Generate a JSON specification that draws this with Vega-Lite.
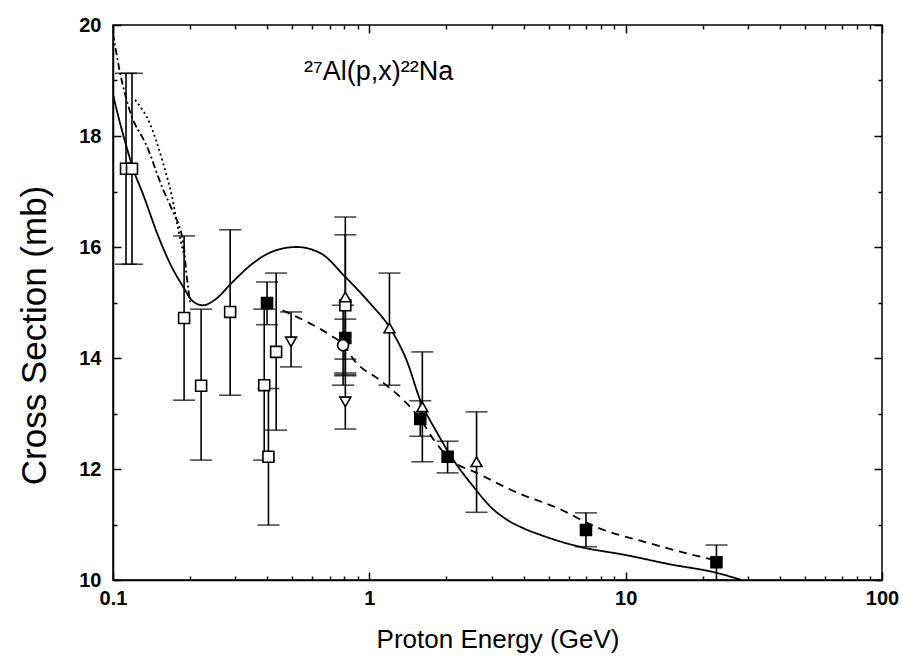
{
  "$schema": "https://vega.github.io/schema/vega-lite/v6.json",
  "width": 769,
  "height": 555,
  "autosize": {"type": "none"},
  "padding": {"left": 113, "top": 25, "right": 19, "bottom": 86},
  "background": "white",
  "config": {
    "view": {"stroke": "black", "strokeWidth": 1.5},
    "font": "Liberation Sans"
  },
  "title": {
    "text": "²⁷Al(p,x)²²Na",
    "anchor": "start",
    "frame": "group",
    "dx": 191,
    "offset": -71,
    "fontSize": 27,
    "fontWeight": "normal",
    "font": "Liberation Sans",
    "color": "black"
  },
  "datasets": {
    "curves": [
      {"curve": "solid", "E": 0.1, "sigma": 18.75},
      {"curve": "solid", "E": 0.103, "sigma": 18.5},
      {"curve": "solid", "E": 0.113, "sigma": 17.8},
      {"curve": "solid", "E": 0.12, "sigma": 17.4},
      {"curve": "solid", "E": 0.131, "sigma": 16.95},
      {"curve": "solid", "E": 0.15, "sigma": 16.2},
      {"curve": "solid", "E": 0.167, "sigma": 15.7},
      {"curve": "solid", "E": 0.188, "sigma": 15.28},
      {"curve": "solid", "E": 0.205, "sigma": 15.02},
      {"curve": "solid", "E": 0.224, "sigma": 14.95},
      {"curve": "solid", "E": 0.25, "sigma": 15.05},
      {"curve": "solid", "E": 0.29, "sigma": 15.35},
      {"curve": "solid", "E": 0.35, "sigma": 15.7},
      {"curve": "solid", "E": 0.42, "sigma": 15.92},
      {"curve": "solid", "E": 0.52, "sigma": 16.0},
      {"curve": "solid", "E": 0.644, "sigma": 15.89},
      {"curve": "solid", "E": 0.806, "sigma": 15.46},
      {"curve": "solid", "E": 1.0, "sigma": 15.0},
      {"curve": "solid", "E": 1.2, "sigma": 14.55},
      {"curve": "solid", "E": 1.4, "sigma": 13.95},
      {"curve": "solid", "E": 1.58, "sigma": 13.24},
      {"curve": "solid", "E": 1.84, "sigma": 12.65},
      {"curve": "solid", "E": 2.13, "sigma": 12.16},
      {"curve": "solid", "E": 2.55, "sigma": 11.68},
      {"curve": "solid", "E": 2.97, "sigma": 11.32},
      {"curve": "solid", "E": 3.46, "sigma": 11.08},
      {"curve": "solid", "E": 4.0, "sigma": 10.93},
      {"curve": "solid", "E": 4.67, "sigma": 10.81},
      {"curve": "solid", "E": 5.5, "sigma": 10.7},
      {"curve": "solid", "E": 6.6, "sigma": 10.6},
      {"curve": "solid", "E": 10, "sigma": 10.45},
      {"curve": "solid", "E": 15, "sigma": 10.28},
      {"curve": "solid", "E": 22.6, "sigma": 10.13},
      {"curve": "solid", "E": 28.3, "sigma": 10.0},
      {"curve": "dashed", "E": 0.458, "sigma": 14.86},
      {"curve": "dashed", "E": 0.588, "sigma": 14.62},
      {"curve": "dashed", "E": 0.7, "sigma": 14.42},
      {"curve": "dashed", "E": 0.806, "sigma": 14.2},
      {"curve": "dashed", "E": 0.866, "sigma": 13.98},
      {"curve": "dashed", "E": 1.1, "sigma": 13.6},
      {"curve": "dashed", "E": 1.36, "sigma": 13.24},
      {"curve": "dashed", "E": 1.58, "sigma": 12.9},
      {"curve": "dashed", "E": 1.8, "sigma": 12.5},
      {"curve": "dashed", "E": 2.02, "sigma": 12.22},
      {"curve": "dashed", "E": 2.71, "sigma": 11.9},
      {"curve": "dashed", "E": 3.79, "sigma": 11.57},
      {"curve": "dashed", "E": 5.4, "sigma": 11.3},
      {"curve": "dashed", "E": 7.8, "sigma": 10.94},
      {"curve": "dashed", "E": 12, "sigma": 10.68},
      {"curve": "dashed", "E": 18, "sigma": 10.46},
      {"curve": "dashed", "E": 22.6, "sigma": 10.35},
      {"curve": "dotted", "E": 0.122, "sigma": 18.65},
      {"curve": "dotted", "E": 0.14, "sigma": 18.2},
      {"curve": "dotted", "E": 0.157, "sigma": 17.5},
      {"curve": "dotted", "E": 0.17, "sigma": 16.9},
      {"curve": "dotted", "E": 0.18, "sigma": 16.3},
      {"curve": "dotted", "E": 0.188, "sigma": 15.9},
      {"curve": "dashdot", "E": 0.1, "sigma": 19.85},
      {"curve": "dashdot", "E": 0.106, "sigma": 19.19},
      {"curve": "dashdot", "E": 0.116, "sigma": 18.47},
      {"curve": "dashdot", "E": 0.136, "sigma": 17.8},
      {"curve": "dashdot", "E": 0.157, "sigma": 17.03},
      {"curve": "dashdot", "E": 0.17, "sigma": 16.67},
      {"curve": "dashdot", "E": 0.188, "sigma": 16.07},
      {"curve": "dashdot", "E": 0.194, "sigma": 15.46},
      {"curve": "dashdot", "E": 0.2, "sigma": 15.0}
    ],
    "points": [
      {"series": "open square", "E": 0.1124, "sigma": 17.41, "lo": 15.69, "hi": 19.13},
      {"series": "open square", "E": 0.1186, "sigma": 17.41, "lo": 15.69, "hi": 19.13},
      {"series": "open square", "E": 0.1894, "sigma": 14.72, "lo": 13.24, "hi": 16.2},
      {"series": "open square", "E": 0.2207, "sigma": 13.5, "lo": 12.16, "hi": 14.88},
      {"series": "open square", "E": 0.2864, "sigma": 14.83, "lo": 13.33, "hi": 16.31},
      {"series": "open square", "E": 0.389, "sigma": 13.51, "lo": 12.16, "hi": 14.88},
      {"series": "open square", "E": 0.404, "sigma": 12.22, "lo": 10.99, "hi": 13.45},
      {"series": "open square", "E": 0.433, "sigma": 14.11, "lo": 12.7, "hi": 15.53},
      {"series": "open square", "E": 0.806, "sigma": 14.95, "lo": 13.68, "hi": 16.22},
      {"series": "filled square", "E": 0.399, "sigma": 14.99, "lo": 14.6, "hi": 15.37},
      {"series": "filled square", "E": 0.806, "sigma": 14.36, "lo": 13.98, "hi": 14.7},
      {"series": "filled square", "E": 1.58, "sigma": 12.9, "lo": 12.59, "hi": 13.23},
      {"series": "filled square", "E": 2.02, "sigma": 12.22, "lo": 11.93, "hi": 12.5},
      {"series": "filled square", "E": 7.0, "sigma": 10.9, "lo": 10.6, "hi": 11.21},
      {"series": "filled square", "E": 22.6, "sigma": 10.32, "lo": 10.0, "hi": 10.63},
      {"series": "up triangle", "E": 0.806, "sigma": 15.1, "lo": 13.73, "hi": 16.54},
      {"series": "up triangle", "E": 1.198, "sigma": 14.54, "lo": 13.51, "hi": 15.53},
      {"series": "up triangle", "E": 1.61, "sigma": 13.12, "lo": 12.13, "hi": 14.11},
      {"series": "up triangle", "E": 2.62, "sigma": 12.13, "lo": 11.22, "hi": 13.03},
      {"series": "down triangle", "E": 0.495, "sigma": 14.29, "lo": 13.84, "hi": 14.83},
      {"series": "down triangle", "E": 0.806, "sigma": 13.21, "lo": 12.72, "hi": 13.7},
      {"series": "circle", "E": 0.79, "sigma": 14.23, "lo": 13.51, "hi": 14.95}
    ]
  },
  "layer": [
    {
      "layer": [
        {
          "data": {"name": "curves"},
          "mark": {"type": "line", "color": "black", "strokeWidth": 1.8, "clip": true, "interpolate": "monotone"},
          "encoding": {
            "x": {"field": "E", "type": "quantitative"},
            "y": {"field": "sigma", "type": "quantitative"},
            "detail": {"field": "curve"},
            "strokeDash": {
              "field": "curve",
              "type": "nominal",
              "scale": {
                "domain": ["solid", "dashed", "dotted", "dashdot"],
                "range": [[1, 0], [8, 6], [2, 3], [7, 3, 2, 3]]
              },
              "legend": null
            }
          }
        },
        {
          "data": {"name": "points"},
          "mark": {"type": "rule", "color": "black", "strokeWidth": 1.6, "clip": true},
          "encoding": {
            "x": {"field": "E", "type": "quantitative"},
            "y": {"field": "lo", "type": "quantitative"},
            "y2": {"field": "hi"}
          }
        },
        {
          "data": {"name": "points"},
          "mark": {"type": "tick", "orient": "horizontal", "color": "black", "size": 22, "thickness": 1.6, "clip": true},
          "encoding": {
            "x": {"field": "E", "type": "quantitative"},
            "y": {"field": "lo", "type": "quantitative"}
          }
        },
        {
          "data": {"name": "points"},
          "mark": {"type": "tick", "orient": "horizontal", "color": "black", "size": 22, "thickness": 1.6, "clip": true},
          "encoding": {
            "x": {"field": "E", "type": "quantitative"},
            "y": {"field": "hi", "type": "quantitative"}
          }
        },
        {
          "data": {"name": "points"},
          "mark": {"type": "point", "stroke": "black", "strokeWidth": 1.6, "opacity": 1, "size": 120},
          "encoding": {
            "x": {
              "field": "E",
              "type": "quantitative",
              "scale": {"type": "log", "domain": [0.1, 100], "nice": false},
              "axis": {
                "orient": "bottom",
                "title": "Proton Energy (GeV)",
                "titleFontSize": 26,
                "titleFontWeight": "normal",
                "titleColor": "black",
                "titlePadding": 14,
                "values": [0.1, 0.2, 0.3, 0.4, 0.5, 0.6, 0.7, 0.8, 0.9, 1, 2, 3, 4, 5, 6, 7, 8, 9, 10, 20, 30, 40, 50, 60, 70, 80, 90, 100],
                "labelExpr": "datum.value == 0.1 ? '0.1' : datum.value == 1 ? '1' : datum.value == 10 ? '10' : datum.value == 100 ? '100' : ''",
                "labelFontSize": 20,
                "labelFontWeight": "bold",
                "labelColor": "black",
                "labelPadding": 16,
                "labelFlush": false,
                "labelOverlap": false,
                "grid": false,
                "domainColor": "black",
                "domainWidth": 1.5,
                "tickColor": "black",
                "tickWidth": 1.5,
                "tickSize": {"condition": {"test": "datum.value == 0.1 || datum.value == 1 || datum.value == 10 || datum.value == 100", "value": -8}, "value": -4}
              }
            },
            "y": {
              "field": "sigma",
              "type": "quantitative",
              "scale": {"domain": [10, 20], "nice": false, "zero": false},
              "axis": {
                "orient": "left",
                "title": "Cross Section (mb)",
                "titleFontSize": 35,
                "titleFontWeight": "normal",
                "titleColor": "black",
                "titlePadding": 26,
                "titleY": 310,
                "values": [10, 11, 12, 13, 14, 15, 16, 17, 18, 19, 20],
                "labelExpr": "datum.value % 2 == 0 ? datum.label : ''",
                "labelFontSize": 20,
                "labelFontWeight": "bold",
                "labelColor": "black",
                "labelPadding": 20,
                "labelFlush": false,
                "labelOverlap": false,
                "grid": false,
                "domainColor": "black",
                "domainWidth": 1.5,
                "tickColor": "black",
                "tickWidth": 1.5,
                "tickSize": {"condition": {"test": "datum.value % 2 == 0", "value": -8}, "value": -4}
              }
            },
            "shape": {
              "field": "series",
              "type": "nominal",
              "scale": {
                "domain": ["open square", "filled square", "up triangle", "down triangle", "circle"],
                "range": ["square", "square", "triangle-up", "triangle-down", "circle"]
              },
              "legend": null
            },
            "fill": {
              "field": "series",
              "type": "nominal",
              "scale": {
                "domain": ["open square", "filled square", "up triangle", "down triangle", "circle"],
                "range": ["white", "black", "white", "white", "white"]
              },
              "legend": null
            }
          }
        }
      ]
    },
    {
      "data": {"name": "points"},
      "mark": {"type": "point", "opacity": 0},
      "encoding": {
        "x": {
          "field": "E",
          "type": "quantitative",
          "axis": {
            "orient": "top",
            "title": null,
            "labels": false,
            "grid": false,
            "domain": false,
            "values": [0.1, 0.2, 0.3, 0.4, 0.5, 0.6, 0.7, 0.8, 0.9, 1, 2, 3, 4, 5, 6, 7, 8, 9, 10, 20, 30, 40, 50, 60, 70, 80, 90, 100],
            "tickColor": "black",
            "tickWidth": 1.5,
            "tickSize": {"condition": {"test": "datum.value == 0.1 || datum.value == 1 || datum.value == 10 || datum.value == 100", "value": -8}, "value": -4}
          }
        },
        "y": {
          "field": "sigma",
          "type": "quantitative",
          "axis": {
            "orient": "right",
            "title": null,
            "labels": false,
            "grid": false,
            "domain": false,
            "values": [10, 11, 12, 13, 14, 15, 16, 17, 18, 19, 20],
            "tickColor": "black",
            "tickWidth": 1.5,
            "tickSize": {"condition": {"test": "datum.value % 2 == 0", "value": -8}, "value": -4}
          }
        }
      }
    }
  ],
  "resolve": {"axis": {"x": "independent", "y": "independent"}}
}
